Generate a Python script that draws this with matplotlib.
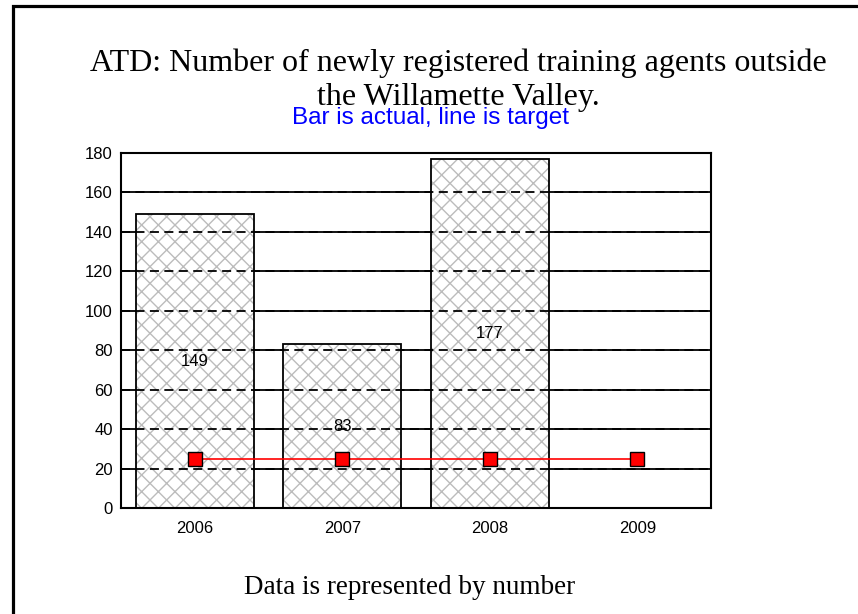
import matplotlib.pyplot as plt
from matplotlib.lines import Line2D
import numpy as np

years = ['2006', '2007', '2008', '2009']
actual = [149, 83, 177]          # no bar for 2009
target = [25, 25, 25, 25]
yticks = [0, 20, 40, 60, 80, 100, 120, 140, 160, 180]

plt.rcParams['hatch.linewidth'] = 1.0

fig = plt.figure(figsize=(8.58, 6.14), dpi=100)
ax = fig.add_axes([121/858, 1-508/614, 590/858, 355/614])

x = np.arange(len(years))
xa = np.arange(len(actual))

# grid: solid behind, dashed on top so it shows through the bars
for y in yticks[1:-1]:
    ax.axhline(y, color='black', lw=1.3, zorder=1)
    ax.axhline(y, color='black', lw=1.3, ls=(0, (5, 3)), zorder=3)

# hatched fill then black outline
ax.bar(xa, actual, width=0.8, color='white', edgecolor='#bcbcbc',
       hatch='xx', lw=0, zorder=2)
ax.bar(xa, actual, width=0.8, fill=False, edgecolor='black', lw=1.3, zorder=4)

for i, v in zip(xa, actual):
    ax.text(i, v / 2, str(v), ha='center', va='center', fontsize=12,
            family='Liberation Sans', zorder=5)

ax.plot(x, target, color='red', lw=1.2, marker='s', markersize=10,
        markerfacecolor='red', markeredgecolor='black', markeredgewidth=1,
        zorder=6)

ax.set_xlim(-0.5, 3.5)
ax.set_ylim(0, 180)
ax.set_yticks(yticks)
ax.set_xticks(x)
ax.set_xticklabels(years)
ax.tick_params(length=0, labelsize=12)
ax.tick_params(axis='y', pad=6)
ax.tick_params(axis='x', pad=9.5)
for lab in ax.get_xticklabels() + ax.get_yticklabels():
    lab.set_family('Liberation Sans')
for s in ax.spines.values():
    s.set_linewidth(1.5)

# titles (the subtitle overlaps the second title line, as in the source)
fig.text(458/858, 1-80/614,
         'ATD: Number of newly registered training agents outside\nthe Willamette Valley.',
         ha='center', va='center', fontsize=23, family='Liberation Serif',
         linespacing=1.22)
fig.text(430/858, 1-118/614, 'Bar is actual, line is target', ha='center',
         va='center', fontsize=17.5, color='#0000ff', family='Liberation Sans')
fig.text(410/858, 1-587/614, 'Data is represented by number', ha='center',
         va='center', fontsize=19.5, family='Liberation Serif')

# outer frame (left and top)
fig.add_artist(Line2D([12.5/858, 12.5/858, 1], [0, 1-5.5/614, 1-5.5/614],
                      transform=fig.transFigure, color='black', lw=2.3,
                      solid_joinstyle='miter'))

fig.savefig('out.png', dpi=100)
